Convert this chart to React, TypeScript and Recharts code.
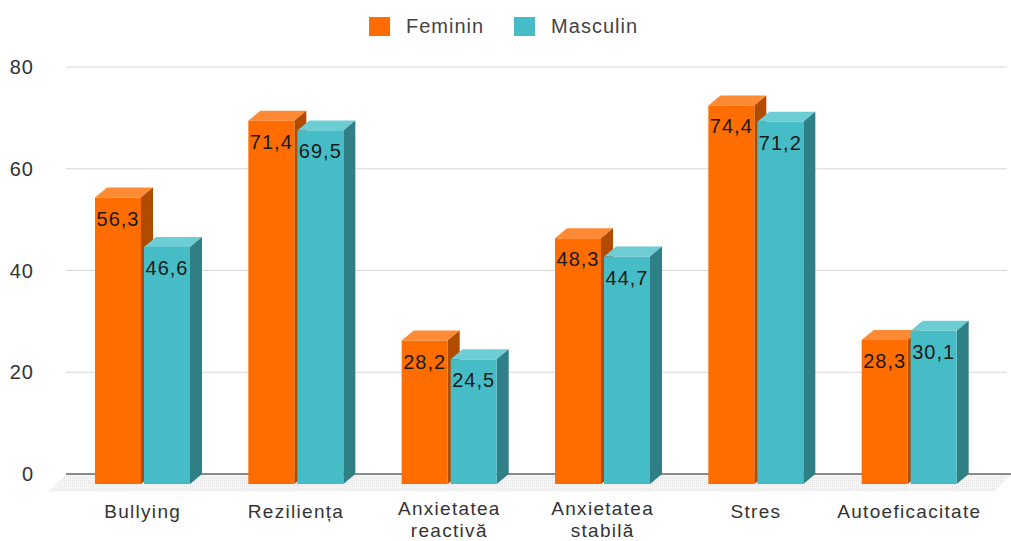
import React from 'react';
import { BarChart, Bar, XAxis, YAxis, CartesianGrid, Legend, LabelList } from 'recharts';

const categories = ['Bullying', 'Reziliența', 'Anxietatea reactivă', 'Anxietatea stabilă', 'Stres', 'Autoeficacitate'];
const femininValues = [56.3, 71.4, 28.2, 48.3, 74.4, 28.3];
const masculinValues = [46.6, 69.5, 24.5, 44.7, 71.2, 30.1];
const yTicks = [0, 20, 40, 60, 80];
const gridValues = [20, 40, 60, 80];
const seriesNames = ['Feminin', 'Masculin'];

const data = categories.map((c, i) => ({ category: c, feminin: femininValues[i], masculin: masculinValues[i] }));

const W = 1011;
const H = 541;
const DX = 12;
const DY = 10;
const FONT = '"Liberation Sans", Arial, sans-serif';
const FS = 20;
const LS = 1;
const XFS = 19;
const XLS = 1.3;

const COLORS: Record<string, { front: string; top: string; side: string }> = {
  feminin: { front: '#ff6d00', top: '#ff8a36', side: '#b14b00' },
  masculin: { front: '#46bdc6', top: '#6ccdd4', side: '#2e7f86' },
};

const make3DShape = (c: { front: string; top: string; side: string }) => (props: any) => {
  const { x, y, width, height } = props;
  if (width == null || height == null) return null;
  const fx = x - DX;
  const fy = y + DY;
  return (
    <g>
      <polygon points={`${fx},${fy} ${fx + width},${fy} ${x + width},${y} ${x},${y}`} fill={c.top} />
      <polygon
        points={`${fx + width},${fy} ${x + width},${y} ${x + width},${y + height} ${fx + width},${fy + height}`}
        fill={c.side}
      />
      <rect x={fx} y={fy} width={width} height={height} fill={c.front} />
    </g>
  );
};

const fmt = (v: number) => v.toFixed(1).replace('.', ',');

const renderValueLabel = (props: any) => {
  const { x, y, width, value } = props;
  return (
    <text
      x={Number(x) - DX + Number(width) / 2}
      y={Number(y) + DY + 28}
      textAnchor="middle"
      fontFamily={FONT}
      fontSize={FS}
      letterSpacing={LS}
      fill="#1a1a1a"
    >
      {fmt(Number(value))}
    </text>
  );
};

const XTick = (props: any) => {
  const { x, y, payload } = props;
  const words: string[] = String(payload.value).split(' ');
  const cx = Number(x) - DX;
  const first = words.length > 1 ? 41 : 44;
  return (
    <g>
      {words.map((w, i) => (
        <text
          key={i}
          x={cx}
          y={Number(y) + first + i * 22}
          textAnchor="middle"
          fontFamily={FONT}
          fontSize={XFS}
          letterSpacing={XLS}
          fill="#333"
        >
          {w}
        </text>
      ))}
    </g>
  );
};

const renderLegend = () => (
  <div
    style={{
      height: 61,
      display: 'flex',
      justifyContent: 'center',
      alignItems: 'flex-start',
      paddingTop: 10,
      boxSizing: 'border-box',
      fontFamily: FONT,
      fontSize: FS,
      letterSpacing: LS,
      color: '#444',
    }}
  >
    {seriesNames.map((n, i) => (
      <div key={n} style={{ display: 'flex', alignItems: 'center', height: 20, marginLeft: i === 0 ? 0 : 30 }}>
        <div
          style={{
            width: 21,
            height: 19,
            background: i === 0 ? COLORS.feminin.front : COLORS.masculin.front,
            marginRight: 16,
          }}
        />
        <span style={{ lineHeight: '20px' }}>{n}</span>
      </div>
    ))}
  </div>
);

export default function App() {
  return (
    <div style={{ position: 'absolute', left: 0, top: 0, width: W, height: H, background: '#fff' }}>
      <svg width={W} height={H} style={{ position: 'absolute', left: 0, top: 0 }}>
        <defs>
          <pattern id="floorDots" width="2" height="2" patternUnits="userSpaceOnUse">
            <rect width="2" height="2" fill="#f6f6f6" />
            <rect width="1" height="1" fill="#e3e3e3" />
          </pattern>
        </defs>
        <polygon points="66,474 1011,474 995,491 50,491" fill="url(#floorDots)" />
        <line x1={66} y1={474} x2={1011} y2={474} stroke="#666" strokeWidth={1.5} />
      </svg>
      <div style={{ position: 'absolute', left: 0, top: 0 }}>
        <BarChart
          width={W}
          height={H}
          data={data}
          margin={{ top: 6, right: 4, bottom: 0, left: 0 }}
          barSize={46}
          barGap={3}
        >
          <CartesianGrid vertical={false} horizontalValues={gridValues} stroke="#d6d6d6" />
          <XAxis
            dataKey="category"
            axisLine={false}
            tickLine={false}
            tickSize={0}
            tickMargin={0}
            height={67}
            padding={{ left: 12, right: 9 }}
            interval={0}
            tick={<XTick />}
          />
          <YAxis
            domain={[0, 80]}
            ticks={yTicks}
            width={66}
            axisLine={false}
            tickLine={false}
            tickSize={0}
            tickMargin={32}
            tick={{ fontFamily: FONT, fontSize: FS, fill: '#333', letterSpacing: LS }}
          />
          <Legend verticalAlign="top" height={61} content={renderLegend} />
          <Bar dataKey="feminin" name="Feminin" fill={COLORS.feminin.front} isAnimationActive={false} shape={make3DShape(COLORS.feminin)}>
            <LabelList dataKey="feminin" content={renderValueLabel} />
          </Bar>
          <Bar dataKey="masculin" name="Masculin" fill={COLORS.masculin.front} isAnimationActive={false} shape={make3DShape(COLORS.masculin)}>
            <LabelList dataKey="masculin" content={renderValueLabel} />
          </Bar>
        </BarChart>
      </div>
    </div>
  );
}
